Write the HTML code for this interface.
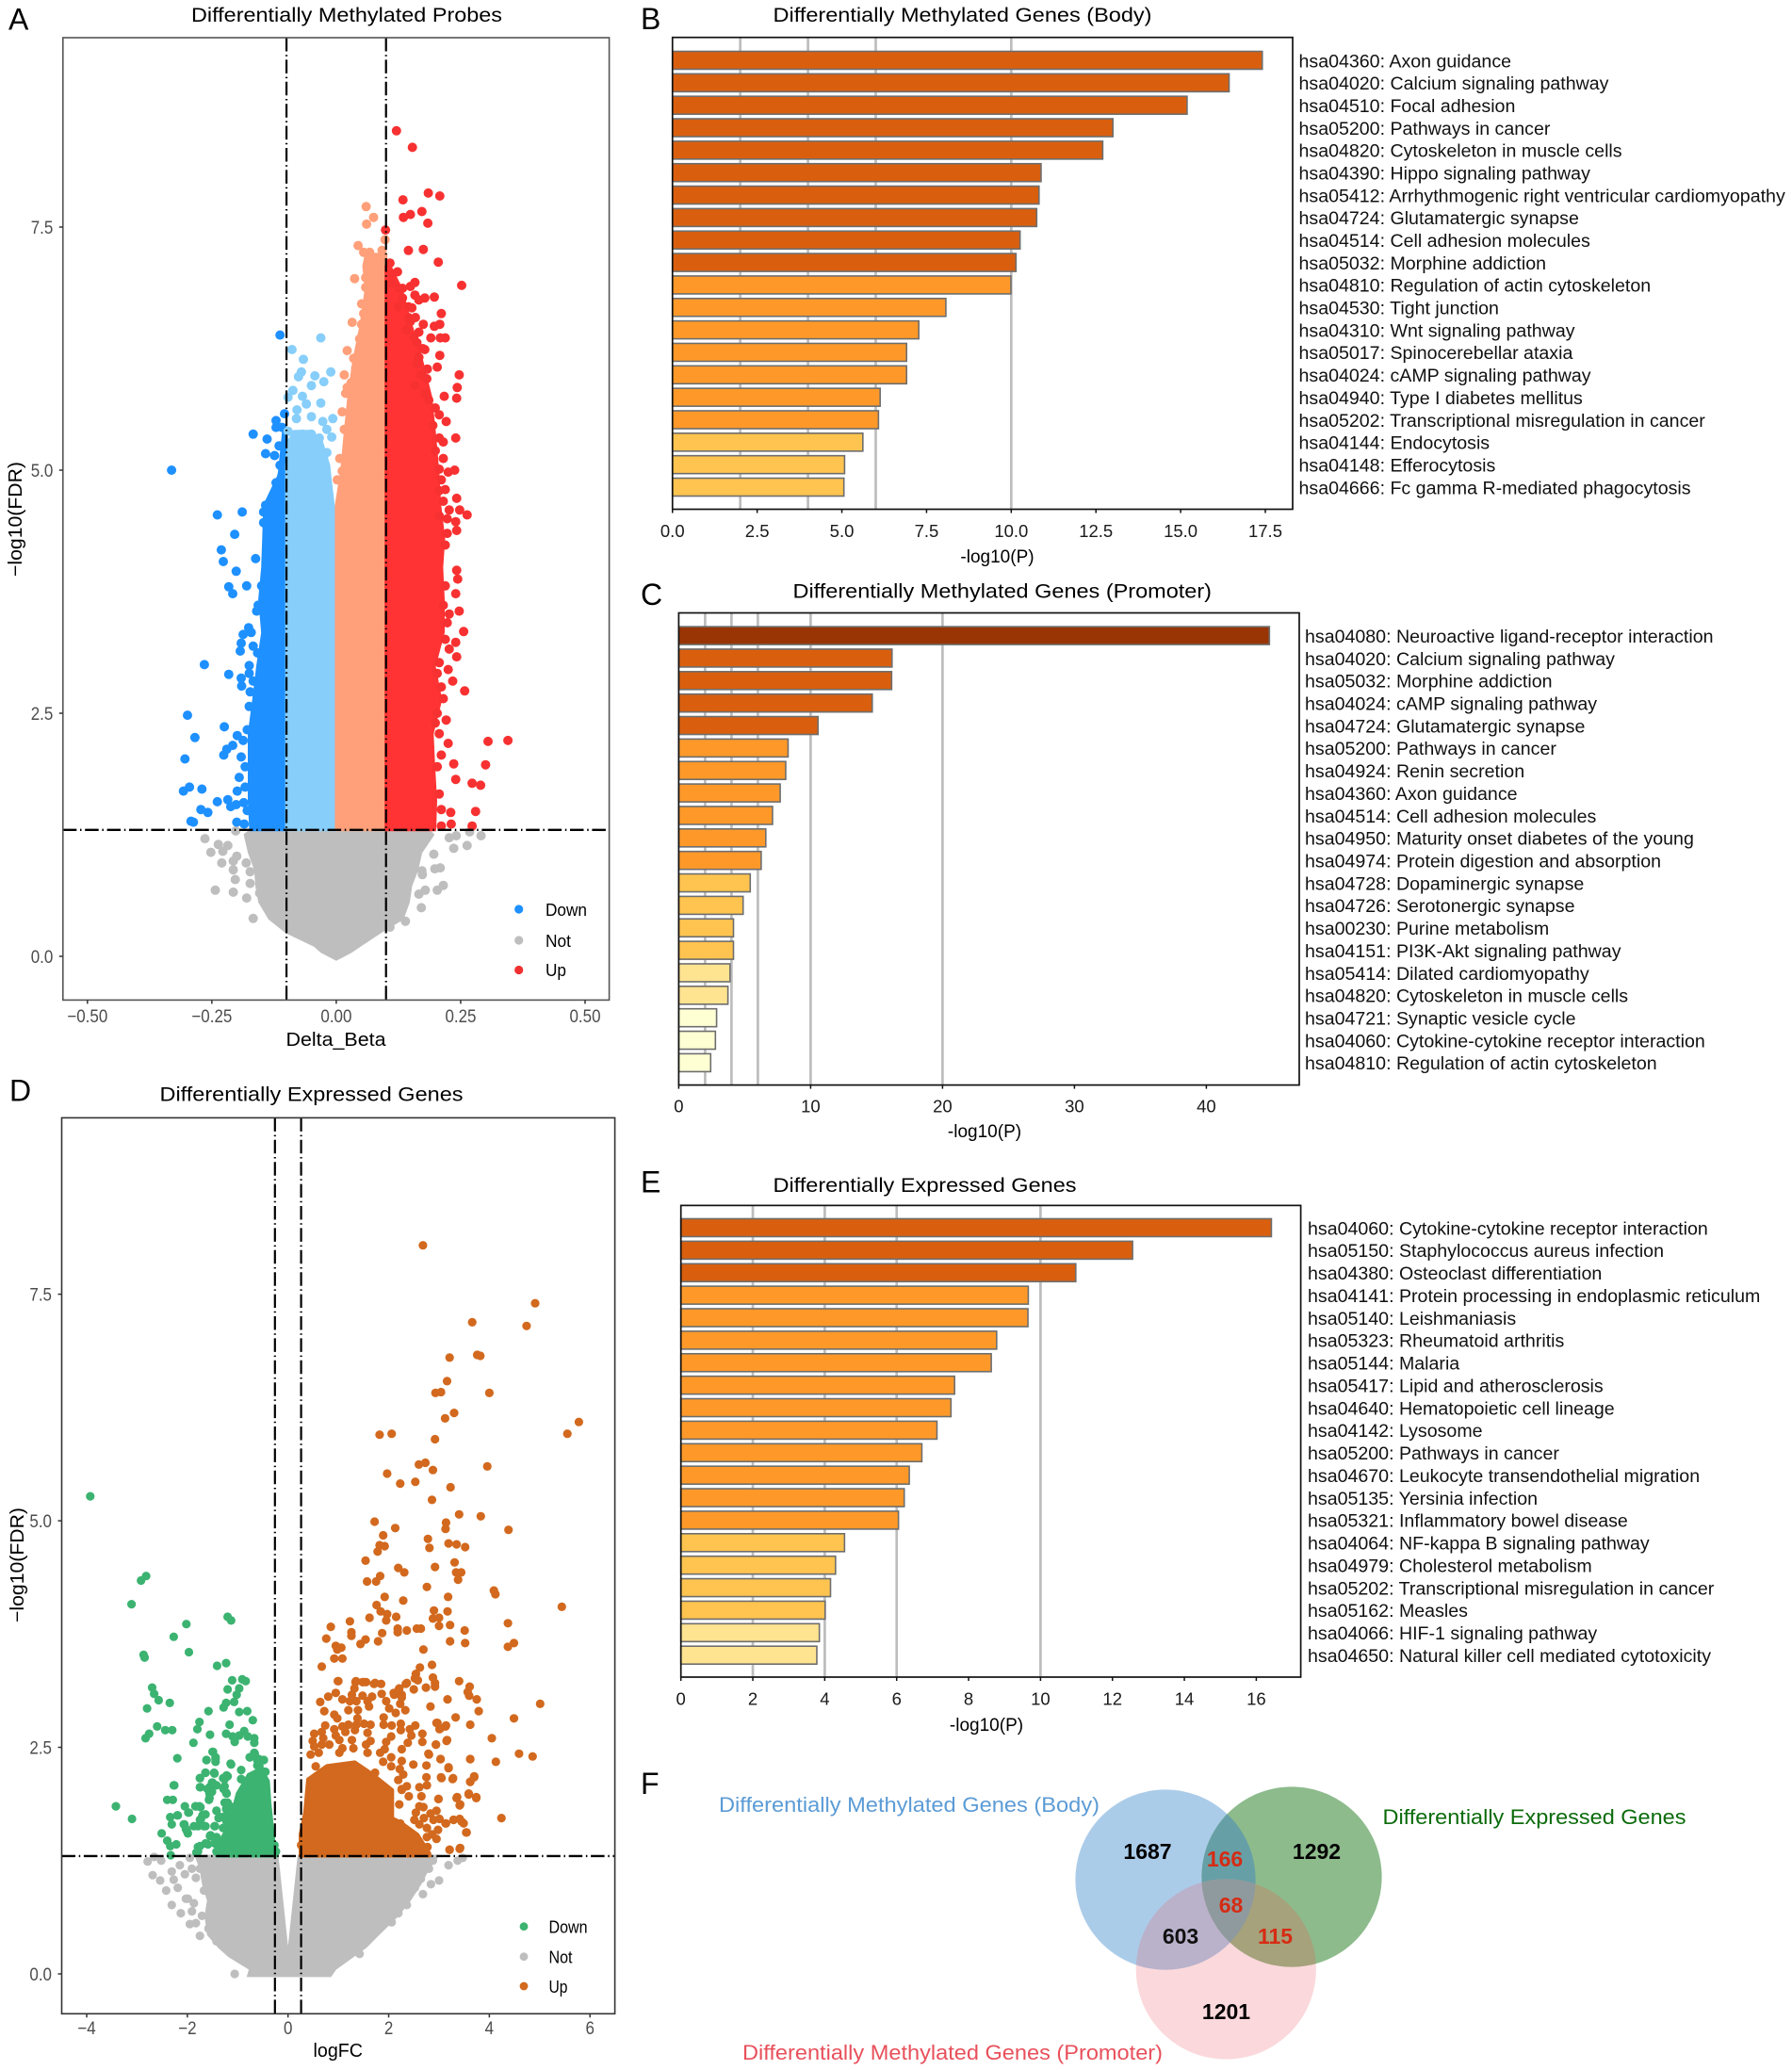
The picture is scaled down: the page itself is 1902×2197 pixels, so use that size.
<!DOCTYPE html>
<html lang="en">
<head>
<meta charset="utf-8">
<title>Differential methylation and expression figure</title>
<style>
html,body{margin:0;padding:0;background:#fff;width:1902px;height:2197px;overflow:hidden}
svg{display:block;font-family:"Liberation Sans",Arial,sans-serif}
</style>
</head>
<body>
<svg id="fig" xmlns="http://www.w3.org/2000/svg" width="1902" height="2197" viewBox="0 0 1902 2197">
  <rect x="0" y="0" width="1902" height="2197" fill="#fff"/>

  <g font-size="32" fill="#000">
    <text x="9" y="31.5">A</text>
    <text x="680" y="31">B</text>
    <text x="680" y="642">C</text>
    <text x="10" y="1168.5">D</text>
    <text x="680" y="1265.5">E</text>
    <text x="680" y="1904">F</text>
  </g>

  <g font-size="21.5" fill="#000">
    <text x="203" y="23" textLength="330" lengthAdjust="spacingAndGlyphs">Differentially Methylated Probes</text>
    <text x="820.5" y="23" textLength="402" lengthAdjust="spacingAndGlyphs">Differentially Methylated Genes (Body)</text>
    <text x="841.5" y="634.5" textLength="444.5" lengthAdjust="spacingAndGlyphs">Differentially Methylated Genes (Promoter)</text>
    <text x="169.5" y="1168.5" textLength="322" lengthAdjust="spacingAndGlyphs">Differentially Expressed Genes</text>
    <text x="820.5" y="1265" textLength="322" lengthAdjust="spacingAndGlyphs">Differentially Expressed Genes</text>
  </g>

  <g id="panelA"></g>
  <g id="panelD"></g>
  <g id="panelB"></g>
  <g id="panelC"></g>
  <g id="panelE"></g>

  <g font-size="20" fill="#000">
    <text x="303.5" y="1110" textLength="106" lengthAdjust="spacingAndGlyphs">Delta_Beta</text>
    <text transform="translate(23,612) rotate(-90)" textLength="122" lengthAdjust="spacingAndGlyphs">−log10(FDR)</text>
    <text x="332.5" y="2183" textLength="52.5" lengthAdjust="spacingAndGlyphs">logFC</text>
    <text transform="translate(25,1722) rotate(-90)" textLength="122" lengthAdjust="spacingAndGlyphs">−log10(FDR)</text>
  </g>
  <g font-size="19" fill="#000" text-anchor="middle">
    <text x="1058.5" y="597">-log10(P)</text>
    <text x="1045" y="1207">-log10(P)</text>
    <text x="1047" y="1837">-log10(P)</text>
  </g>

  <g font-size="18.5" fill="#000">
    <circle cx="550.7" cy="965" r="4.6" fill="#1E90FF"/>
    <circle cx="550.7" cy="998" r="4.6" fill="#BEBEBE"/>
    <circle cx="550.7" cy="1029.5" r="4.6" fill="#F03030"/>
    <text x="579" y="972" textLength="44" lengthAdjust="spacingAndGlyphs">Down</text>
    <text x="579" y="1005" textLength="27" lengthAdjust="spacingAndGlyphs">Not</text>
    <text x="579" y="1036" textLength="22" lengthAdjust="spacingAndGlyphs">Up</text>
  </g>
  <g font-size="18.5" fill="#000">
    <circle cx="556" cy="2044.7" r="4.4" fill="#3CB371"/>
    <circle cx="556" cy="2076.7" r="4.4" fill="#BEBEBE"/>
    <circle cx="556" cy="2108" r="4.4" fill="#D2691E"/>
    <text x="582.5" y="2051.5" textLength="41" lengthAdjust="spacingAndGlyphs">Down</text>
    <text x="582.5" y="2083.5" textLength="25" lengthAdjust="spacingAndGlyphs">Not</text>
    <text x="582.5" y="2115" textLength="20" lengthAdjust="spacingAndGlyphs">Up</text>
  </g>

  <defs>
    <clipPath id="clipBlue"><circle cx="1237" cy="1995" r="95.6"/></clipPath>
    <clipPath id="clipGreen"><circle cx="1371" cy="1992" r="95.6"/></clipPath>
    <clipPath id="clipPink"><circle cx="1301.3" cy="2090" r="95.6"/></clipPath>
  </defs>
  <g>
    <circle cx="1301.3" cy="2090" r="95.6" fill="#FBD8DB"/>
    <circle cx="1237" cy="1995" r="95.6" fill="#ABCCE9"/>
    <circle cx="1371" cy="1992" r="95.6" fill="#8DBB8C"/>
    <circle cx="1371" cy="1992" r="95.6" fill="#66A0A6" clip-path="url(#clipBlue)"/>
    <circle cx="1301.3" cy="2090" r="95.6" fill="#BAB1CB" clip-path="url(#clipBlue)"/>
    <circle cx="1301.3" cy="2090" r="95.6" fill="#A6A27C" clip-path="url(#clipGreen)"/>
    <g clip-path="url(#clipBlue)"><circle cx="1301.3" cy="2090" r="95.6" fill="#8F9A9E" clip-path="url(#clipGreen)"/></g>
    <g font-size="23" font-weight="bold" text-anchor="middle">
      <text x="1218" y="1973" fill="#000">1687</text>
      <text x="1300" y="1981" fill="#D62B14">166</text>
      <text x="1397.5" y="1973" fill="#000">1292</text>
      <text x="1306.5" y="2030" fill="#D62B14">68</text>
      <text x="1253" y="2063" fill="#111">603</text>
      <text x="1353.5" y="2063" fill="#D62B14">115</text>
      <text x="1301.5" y="2143" fill="#000">1201</text>
    </g>
    <g font-size="22.5">
      <text x="763" y="1923" fill="#5B9BD5" textLength="404" lengthAdjust="spacingAndGlyphs">Differentially Methylated Genes (Body)</text>
      <text x="1467.5" y="1936" fill="#0B6B0B" textLength="322" lengthAdjust="spacingAndGlyphs">Differentially Expressed Genes</text>
      <text x="788" y="2186" fill="#E8505B" textLength="446" lengthAdjust="spacingAndGlyphs">Differentially Methylated Genes (Promoter)</text>
    </g>
  </g>
</svg>

<script>
/* ---------- Panel A data: delta-beta vs -log10(FDR) ---------- */
const aXTicks = [-0.5,-0.25,0,0.25,0.5];
const aXTickLabels = ['−0.50','−0.25','0.00','0.25','0.50'];
const aYTicks = [0,2.5,5,7.5];
const aYTickLabels = ['0.0','2.5','5.0','7.5'];
const aThresholds = [-0.1,0.1];
const aFdrThreshold = 1.3;

const aGreyLevels = [-0.03,0.05,0.11,0.25,0.39,0.56,0.73,0.89,1.07,1.25,1.32];
const aGreyLeft = [0,-0.03,-0.043,-0.1,-0.134,-0.154,-0.16,-0.162,-0.175,-0.183,-0.165];
const aGreyRight = [0,0.03,0.047,0.088,0.133,0.145,0.15,0.162,0.17,0.194,0.18];

const aDownLevels = [1.3,1.6,1.95,2.29,2.64,2.98,3.33,3.67,4.0,4.3,4.64,4.95,5.4];
const aDownLeft = [-0.172,-0.175,-0.175,-0.175,-0.166,-0.158,-0.148,-0.154,-0.148,-0.146,-0.144,-0.115,-0.106];
const aDownRight = [-0.1,-0.1,-0.1,-0.1,-0.1,-0.1,-0.1,-0.1,-0.1,-0.1,-0.1,-0.1,-0.1];

const aLightLevels = [1.3,4.3,4.6,4.9,5.05,5.3,5.4];
const aLightLeft = [-0.1,-0.1,-0.1,-0.1,-0.1,-0.095,-0.085];
const aLightRight = [0,0,-0.005,-0.012,-0.015,-0.03,-0.05];

const aSalmonLevels = [1.3,4.64,5.0,5.4,5.75,6.12,6.5,6.87,7.1,7.22];
const aSalmonLeft = [0,0,0.011,0.018,0.025,0.035,0.05,0.06,0.055,0.06];
const aSalmonRight = [0.1,0.1,0.1,0.1,0.1,0.1,0.1,0.1,0.1,0.1];

const aUpLevels = [1.3,1.6,1.95,2.29,2.64,2.98,3.33,3.67,4.0,4.3,4.64,5.0,5.4,5.75,6.12,6.5,6.87,7.1];
const aUpLeft = [0.1,0.1,0.1,0.1,0.1,0.1,0.1,0.1,0.1,0.1,0.1,0.1,0.1,0.1,0.1,0.1,0.1,0.1];
const aUpRight = [0.198,0.2,0.196,0.193,0.21,0.197,0.215,0.215,0.212,0.216,0.208,0.204,0.197,0.19,0.172,0.15,0.13,0.108];

const aUpPoints = [[.121,8.49],[.153,8.32],[.185,7.85],[.208,7.82],[.134,7.78],[.172,7.66],[.149,7.63],[.135,7.6],[.184,7.54],[.099,7.47],[.145,7.26],[.175,7.27],[.205,7.14],[.108,7.13],[.123,7.04],[.252,6.9],[.158,6.93],[.149,6.89],[.112,6.92],[.158,6.8],[.197,6.78],[.178,6.77],[.133,6.77],[.166,6.75],[.152,6.67],[.211,6.61],[.159,6.57],[.149,6.53],[.175,6.5],[.208,6.5],[.197,6.48],[.141,6.44],[.156,6.37],[.19,6.36],[.209,6.36],[.219,6.36],[.178,6.24],[.208,6.18],[.183,6.04],[.203,6.06],[.182,5.94],[.247,5.98],[.243,5.85],[.242,5.74],[.217,5.76],[.221,5.5],[.24,5.33],[.215,5.29],[.238,5],[.225,4.98],[.215,5.12],[.219,4.8],[.242,4.71],[.227,4.59],[.248,4.59],[.263,4.54],[.24,4.47],[.223,4.5],[.242,4.38],[.242,3.97],[.244,3.88],[.24,3.73],[.247,3.55],[.227,3.52],[.256,3.34],[.24,3.23],[.227,3.16],[.242,3.08],[.225,2.95],[.234,2.83],[.258,2.73],[.221,2.43],[.305,2.21],[.345,2.22],[.225,2.19],[.236,1.98],[.3,1.97],[.24,1.82],[.273,1.78],[.29,1.76],[.28,1.49],[.23,1.48],[.231,1.36],[.273,1.34],[.211,1.34],[.112,7.02],[.125,6.87],[.133,6.87],[.145,6.68],[.125,6.68],[.145,6.57],[.166,6.42],[.162,6.31],[.174,6.25],[.166,6.16],[.162,6.09],[.17,5.98],[.158,5.87],[.178,5.79],[.186,5.72],[.199,5.64],[.207,5.57],[.194,5.46],[.207,5.33],[.199,5.2],[.207,5.01],[.211,4.9],[.207,4.79],[.215,4.68],[.207,4.53],[.223,4.35],[.219,4.23],[.219,3.81],[.215,3.61],[.223,3.43],[.219,3.26],[.207,3.02],[.203,2.91],[.211,2.77],[.215,2.65],[.203,2.5],[.199,2.4],[.207,2.29],[.211,2.07],[.203,1.95],[.207,1.67],[.211,1.51]];
const aSalmonPoints = [[.06,7.71],[.075,7.6],[.061,7.53],[.098,7.37],[.044,7.31],[.067,7.24],[.092,7.26],[.084,7.09],[.037,6.97],[.07,7],[.059,6.88],[.08,6.89],[.051,6.71],[.078,6.77],[.032,6.52],[.051,6.5],[.047,6.35],[.022,6.23],[.035,6.15],[.016,5.98],[.019,5.79],[.012,5.6],[.016,5.42],[.007,5.12],[.012,4.99],[.002,4.9],[.08,7.16],[.055,7.24],[.071,7.07],[.059,6.98],[.092,6.98],[.067,6.83],[.055,6.61],[.075,6.61],[.067,6.53],[.051,6.22],[.039,6.05],[.03,5.9],[.022,5.85]];
const aLightPoints = [[-.031,6.36],[-.089,6.24],[-.066,6.14],[-.011,6.01],[-.07,6.01],[-.043,5.97],[-.076,5.96],[-.025,5.91],[-.05,5.87],[-.087,5.82],[-.068,5.76],[-.097,5.75],[-.031,5.69],[-.06,5.68],[-.079,5.62],[-.05,5.55],[-.007,5.53],[-.08,5.53],[-.027,5.5],[-.019,5.42],[-.097,5.4],[-.068,5.37],[-.05,5.37],[-.034,5.33],[-.009,5.34],[-.08,5.29],[-.056,5.24],[-.019,5.18],[-.072,5.18],[-.045,5.1],[-.093,5.14]];
const aDownPoints = [[-.113,6.39],[-.104,5.58],[-.121,5.51],[-.121,5.44],[-.109,5.44],[-.167,5.37],[-.139,5.32],[-.115,5.25],[-.142,5.17],[-.124,5.15],[-.113,5.05],[-.331,5],[-.109,4.95],[-.121,4.87],[-.121,4.79],[-.142,4.64],[-.114,4.68],[-.239,4.54],[-.189,4.57],[-.146,4.57],[-.146,4.46],[-.204,4.34],[-.231,4.18],[-.227,4.06],[-.162,4.09],[-.201,3.96],[-.216,3.8],[-.208,3.73],[-.18,3.81],[-.16,3.55],[-.176,3.38],[-.187,3.31],[-.191,3.22],[-.193,3.14],[-.175,2.99],[-.265,3],[-.216,2.9],[-.191,2.86],[-.19,2.78],[-.173,2.72],[-.299,2.48],[-.225,2.36],[-.199,2.27],[-.284,2.25],[-.208,2.17],[-.22,2.13],[-.226,2.07],[-.304,2.03],[-.195,1.84],[-.295,1.74],[-.27,1.72],[-.307,1.7],[-.199,1.7],[-.218,1.61],[-.239,1.59],[-.186,1.58],[-.201,1.56],[-.212,1.54],[-.272,1.51],[-.258,1.48],[-.292,1.39],[-.287,1.38],[-.2,1.38],[-.185,1.36],[-.15,3.81],[-.157,3.61],[-.171,3.33],[-.167,3.19],[-.158,3.12],[-.175,2.91],[-.167,2.83],[-.175,2.57],[-.179,2.33],[-.187,2.22],[-.191,2.05],[-.183,1.95],[-.183,1.74],[-.179,1.5]];
const aGreyPoints = [[-.202,1.29],[-.264,1.21],[-.237,1.15],[-.218,1.14],[-.252,1.07],[-.228,1.08],[-.2,1.03],[-.23,.96],[-.207,.98],[-.181,.96],[-.207,.89],[-.173,.87],[-.203,.79],[-.173,.75],[-.153,.77],[-.243,.68],[-.207,.66],[-.18,.6],[-.167,.39],[-.154,.65],[.268,1.28],[.291,1.24],[.241,1.24],[.227,1.22],[.263,1.14],[.236,1.11],[.196,1.05],[.172,.88],[.198,.9],[.209,.91],[.173,.84],[.215,.73],[.179,.68],[.203,.68],[.166,.64],[.171,.5],[.139,.36],[.108,.3]];

/* ---------- Panel D data: logFC vs -log10(FDR) ---------- */
const dXTicks = [-4,-2,0,2,4,6];
const dXTickLabels = ['−4','−2','0','2','4','6'];
const dYTicks = [0,2.5,5,7.5];
const dYTickLabels = ['0.0','2.5','5.0','7.5'];
const dThresholds = [-0.26,0.26];
const dFdrThreshold = 1.3;

const dGreyLevels = [-0.03,0.05,0.19,0.29,0.43,0.64,0.81,0.99,1.16,1.31];
const dGreyLeft = [-0.81,-0.77,-1.18,-1.38,-1.6,-1.65,-1.6,-1.7,-1.75,-1.85];
const dGreyRight = [0.85,0.95,1.3,1.55,1.8,2.19,2.43,2.64,2.8,3];
const dNotchLevels = [0.26,1.31];
const dNotchHalfWidth = [0,0.2];

const dUpBandX = [.24,.24,.33,.39,.77,1.33,1.70,2.08,2.08,2.23,2.58,2.82];
const dUpBandTop = [1.3,1.54,1.78,2.15,2.3,2.34,2.2,2.03,1.72,1.68,1.54,1.33];
const dDownBandX = [-1.42,-1.17,-1.01,-.79,-.54,-.39,-.36,-.28,-.23];
const dDownBandTop = [1.40,1.65,1.99,2.2,2.27,2.13,1.89,1.47,1.32];
const dBandBottom = 1.3;

const dUpPoints = [[2.68,8.04],[4.91,7.4],[3.66,7.19],[4.74,7.15],[3.21,6.8],[3.76,6.83],[3.82,6.82],[3.16,6.54],[2.93,6.41],[3.04,6.42],[4,6.41],[3.3,6.19],[3.12,6.13],[5.78,6.09],[5.55,5.96],[1.82,5.95],[2.06,5.96],[2.92,5.9],[2.6,5.62],[2.73,5.64],[2.88,5.56],[3.96,5.6],[1.97,5.52],[2.23,5.41],[2.53,5.43],[3.23,5.37],[2.86,5.23],[3.4,5.07],[3.83,5.05],[1.72,4.99],[3.14,4.98],[3.13,4.91],[2.13,4.92],[4.38,4.9],[1.89,4.84],[2.78,4.8],[1.82,4.73],[1.92,4.72],[2.81,4.7],[1.78,4.66],[3.19,4.75],[3.35,4.74],[3.52,4.71],[3.31,4.54],[1.54,4.56],[2.19,4.48],[2.92,4.49],[2.31,4.43],[3.34,4.43],[3.44,4.43],[1.83,4.39],[1.57,4.33],[1.75,4.33],[3.38,4.35],[2.76,4.27],[4.09,4.23],[4.12,4.19],[1.92,4.16],[3.18,4.16],[2.29,4.12],[5.44,4.05],[1.76,4.07],[1.84,4],[1.97,3.97],[1.95,3.9],[2.15,3.94],[2.9,4.01],[3.17,4],[1.62,3.93],[1.23,3.89],[2.88,3.92],[3,3.93],[4.37,3.87],[3.22,3.85],[.85,3.83],[3,3.84],[2.18,3.81],[2.36,3.79],[2.56,3.81],[2.64,3.81],[3.51,3.79],[2.18,3.77],[1.26,3.77],[1.87,3.76],[1.26,3.73],[.76,3.7],[1.54,3.69],[1.79,3.67],[3.22,3.67],[3.52,3.65],[1.44,3.64],[4.49,3.65],[4.37,3.61],[.95,3.62],[1.06,3.6],[.98,3.58],[2.69,3.58],[.92,3.48],[1.08,3.48],[2.86,3.41],[.67,3.39],[2.62,3.38],[2.54,3.31],[2.88,3.27],[2.52,3.26],[1,3.23],[1.34,3.22],[1.5,3.22],[1.73,3.21],[1.85,3.2],[2.36,3.21],[2.58,3.24],[2.92,3.21],[3.4,3.23],[2.92,3.17],[2.74,3.16],[2.5,3.14],[2.21,3.15],[3.61,3.17],[3.57,3.11],[3.6,3.07],[2.1,3.1],[2.26,3.08],[3.75,3.03],[3.17,3.03],[5.01,2.98],[2.83,2.95],[3.79,2.9],[3.33,2.83],[4.49,2.82],[3.62,2.75],[4.05,2.6],[3.16,2.58],[2.94,2.53],[2.97,2.77],[3.13,2.73],[3.03,2.71],[4.59,2.43],[4.86,2.4],[4.13,2.34],[3.62,2.37],[3.03,2.37],[3.19,2.27],[2.8,2.42],[3.7,2.17],[3.27,2.15],[3.05,2.16],[3.62,2.12],[4.24,1.72],[3.59,1.98],[3.74,1.94],[3.35,1.94],[3.41,1.86],[2.99,1.93],[3.29,1.7],[3.41,1.71],[3.49,1.66],[3.55,1.56],[3.21,1.37],[3.41,1.38],[3.13,1.66],[.99,3.23],[1.35,3.23],[1.48,3.22],[1.55,3.22],[1.71,3.2],[2.34,3.2],[1.32,3.15],[1.86,3.09],[1.27,3.08],[.95,3.1],[.8,3.06],[1.48,3.07],[1.67,3.06],[.64,3],[1.08,3.03],[1.23,3.01],[1.36,3.01],[1.58,3.01],[1.95,3.01],[2.11,3.08],[2.2,3.14],[2.26,3.05],[2.23,2.98],[2.33,2.91],[1.61,2.95],[1.2,2.91],[1.39,2.91],[2.01,2.93],[2.14,2.88],[.72,2.9],[.92,2.86],[.98,2.82],[1.38,2.82],[1.9,2.83],[1.36,2.75],[1.2,2.75],[1.08,2.73],[1.51,2.76],[1.64,2.75],[1.9,2.75],[2.06,2.74],[2.24,2.76],[2.24,2.69],[2.53,2.74],[2.42,2.7],[2.45,2.63],[.74,2.74],[.67,2.67],[.52,2.65],[.92,2.7],[.95,2.63],[1.14,2.67],[1.33,2.69],[1.58,2.66],[2.05,2.62],[.49,2.57],[.7,2.6],[1.02,2.58],[1.27,2.58],[1.64,2.57],[1.95,2.56],[2.38,2.55],[2.67,2.65],[2.67,2.56],[2.95,2.77],[3.01,2.7],[3.14,2.74],[2.94,2.53],[3.15,2.57],[.52,2.51],[.67,2.53],[.82,2.53],[1.08,2.49],[1.3,2.49],[1.55,2.53],[1.92,2.48],[2.26,2.48],[.45,2.42],[.61,2.44],[1.02,2.44],[1.58,2.44],[1.83,2.44],[2.05,2.39],[2.79,2.43],[2.26,2.35],[1.89,2.34],[.55,2.29],[2.05,2.29],[2.49,2.31],[2.75,2.3],[3.03,2.37],[2.22,2.26],[2.29,2.2],[1.73,2.22],[3.19,2.28],[3.62,2.37],[2.75,2.17],[2.19,2.14],[3.04,2.17],[3.28,2.16],[3.7,2.18],[3.62,2.12],[2.26,2.04],[2.36,2.07],[2.61,2.06],[2.76,2.08],[2.26,2.03],[2.4,1.96],[2.65,1.96],[2.99,1.93],[3.36,1.95],[3.59,1.99],[3.74,1.95],[3.42,1.87],[2.21,1.87],[2.61,1.85],[2.69,1.84],[2.54,1.78],[2.95,1.8],[2.83,1.77],[2.51,1.7],[2.7,1.72],[2.89,1.7],[3.01,1.71],[3.14,1.66],[3.29,1.7],[3.45,1.68],[3.54,1.56],[2.61,1.65],[2.76,1.61],[2.98,1.59],[2.86,1.54],[2.95,1.49],[2.76,1.51],[2.77,1.4],[2.58,1.4],[3.21,1.37],[3.42,1.39],[2.23,1.66],[2.45,1.54],[.26,1.42]];
const dDownPoints = [[-3.93,5.27],[-2.82,4.39],[-2.92,4.34],[-3.11,4.08],[-1.2,3.94],[-1.13,3.9],[-2.02,3.86],[-2.27,3.72],[-1.97,3.55],[-2.87,3.52],[-2.85,3.49],[-1.23,3.43],[-1.41,3.4],[-.91,3.25],[-.84,3.23],[-1.11,3.24],[-2.7,3.16],[-2.66,3.09],[-1.2,3.14],[-.97,3.15],[-1.02,3.08],[-2.57,3.02],[-2.35,2.99],[-1.07,3],[-1.23,2.99],[-1.28,2.94],[-2.8,2.93],[-1.58,2.9],[-.97,2.89],[-.81,2.9],[-.7,2.8],[-1.76,2.78],[-1.8,2.7],[-1.16,2.75],[-2.6,2.73],[-2.44,2.69],[-2.3,2.69],[-2.76,2.65],[-2.83,2.6],[-1.55,2.64],[-1.23,2.65],[-.87,2.68],[-1.1,2.62],[-.97,2.63],[-1.06,2.56],[-.8,2.62],[-.67,2.6],[-.67,2.55],[-1.88,2.55],[-1.5,2.45],[-1.44,2.39],[-.66,2.43],[-.76,2.39],[-.61,2.36],[-.49,2.36],[-2.2,2.38],[-1.62,2.36],[-1.44,2.34],[-1.13,2.31],[-.57,2.29],[-.47,2.23],[-1.64,2.22],[-1.46,2.21],[-1.22,2.19],[-1.75,2.16],[-1.26,2.15],[-1.5,2.11],[-.93,2.15],[-2.27,2.08],[-1.75,2.06],[-1.56,2.06],[-1.28,2.04],[-1.22,1.99],[-1.56,1.99],[-1.57,1.92],[-2.4,1.92],[-2.29,1.92],[-.97,1.9],[-3.42,1.85],[-2.05,1.85],[-1.83,1.85],[-1.74,1.84],[-1.26,1.89],[-1.97,1.78],[-1.42,1.8],[-2.19,1.75],[-1.21,1.77],[-3.1,1.71],[-2.34,1.73],[-1.7,1.75],[-1.38,1.72],[-1.75,1.7],[-2.31,1.65],[-2.07,1.65],[-1.87,1.63],[-1.67,1.63],[-1.46,1.63],[-1.22,1.68],[-2.03,1.6],[-1.99,1.55],[-2.51,1.55],[-1.54,1.53],[-1.42,1.51],[-1.26,1.47],[-2.4,1.47],[-2.22,1.43],[-2.34,1.41],[-1.75,1.41],[-1.59,1.43],[-1.06,1.42],[-1.3,1.39],[-1.79,1.35],[-2.33,1.31],[-1.42,1.35],[-.93,1.39],[-.85,1.61],[-1.06,1.7],[-.77,1.56],[-.24,1.35],[-.27,1.42],[-.67,2.44],[-.76,2.39],[-.58,2.37],[-.48,2.36],[-.61,2.3],[-.45,2.23],[-.7,2.18],[-.93,2.15],[-1.14,2.32],[-.93,2.25],[-1.49,2.45],[-1.44,2.37],[-1.62,2.36],[-1.47,2.22],[-1.64,2.22],[-1.75,2.16],[-1.29,2.16],[-1.2,2.18],[-1.51,2.11],[-1.42,2.08],[-1.26,2.07],[-2.26,2.08],[-1.74,2.06],[-1.6,2.04],[-1.51,2.01],[-1.23,2],[-1.56,1.94],[-1.2,1.89],[-1.11,1.84],[-1.23,1.82],[-1.84,1.85],[-1.76,1.85],[-1.42,1.8],[-1.98,1.78],[-2.2,1.75],[-1.64,1.76],[-1.73,1.71],[-1.32,1.73],[-1.14,1.7],[-.98,1.78],[-2.06,1.65],[-2.01,1.58],[-1.79,1.63],[-1.64,1.63],[-1.45,1.63],[-1.29,1.61],[-1.55,1.52],[-1.45,1.49],[-1.23,1.47],[-1.79,1.4],[-1.64,1.44],[-1.45,1.44],[-1.26,1.39],[-1.04,1.42],[-1.39,1.35],[-1.82,1.34]];
const dGreyPoints = [[-1.06,0],[-2.79,1.24],[-2.66,1.29],[-2.52,1.25],[-2.69,1.09],[-2.54,1.03],[-2.42,.92],[-2.31,1.13],[-2.27,1.04],[-2.19,.95],[-2.31,.76],[-2.13,.67],[-2.03,.83],[-2.15,1.2],[-1.95,.55],[-1.83,.56],[-1.91,.69],[-1.75,1.16],[3.19,1.2],[3.37,1.25],[3.47,1.28],[3,1.03],[2.84,.99],[2.68,.88],[2.36,.76],[2.19,.67],[2.06,.57],[2.88,1.25],[2.8,1.16],[2.64,1.05],[2.52,.95],[1.42,.22],[-1.91,1.16],[-1.62,1.23],[-1.83,1.06],[-1.67,.92],[-1.99,.83],[-1.87,.78],[-1.71,.64],[-1.58,.5],[-1.75,.42],[-1.42,.36],[-1.95,1.28],[-2.05,1.1]];

/* ---------- Bar panels ---------- */
const bCategories = ['hsa04360: Axon guidance','hsa04020: Calcium signaling pathway','hsa04510: Focal adhesion','hsa05200: Pathways in cancer','hsa04820: Cytoskeleton in muscle cells','hsa04390: Hippo signaling pathway','hsa05412: Arrhythmogenic right ventricular cardiomyopathy','hsa04724: Glutamatergic synapse','hsa04514: Cell adhesion molecules','hsa05032: Morphine addiction','hsa04810: Regulation of actin cytoskeleton','hsa04530: Tight junction','hsa04310: Wnt signaling pathway','hsa05017: Spinocerebellar ataxia','hsa04024: cAMP signaling pathway','hsa04940: Type I diabetes mellitus','hsa05202: Transcriptional misregulation in cancer','hsa04144: Endocytosis','hsa04148: Efferocytosis','hsa04666: Fc gamma R-mediated phagocytosis'];
const bValues = [17.41,16.43,15.19,13.0,12.7,10.88,10.82,10.75,10.26,10.14,9.99,8.07,7.27,6.91,6.91,6.13,6.08,5.62,5.08,5.06];
const bTicks = [0,2.5,5,7.5,10,12.5,15,17.5];
const bTickLabels = ['0.0','2.5','5.0','7.5','10.0','12.5','15.0','17.5'];
const bGrid = [2,4,6,10];

const cCategories = ['hsa04080: Neuroactive ligand-receptor interaction','hsa04020: Calcium signaling pathway','hsa05032: Morphine addiction','hsa04024: cAMP signaling pathway','hsa04724: Glutamatergic synapse','hsa05200: Pathways in cancer','hsa04924: Renin secretion','hsa04360: Axon guidance','hsa04514: Cell adhesion molecules','hsa04950: Maturity onset diabetes of the young','hsa04974: Protein digestion and absorption','hsa04728: Dopaminergic synapse','hsa04726: Serotonergic synapse','hsa00230: Purine metabolism','hsa04151: PI3K-Akt signaling pathway','hsa05414: Dilated cardiomyopathy','hsa04820: Cytoskeleton in muscle cells','hsa04721: Synaptic vesicle cycle','hsa04060: Cytokine-cytokine receptor interaction','hsa04810: Regulation of actin cytoskeleton'];
const cValues = [44.78,16.17,16.14,14.67,10.56,8.29,8.11,7.69,7.11,6.6,6.25,5.42,4.88,4.15,4.15,3.89,3.73,2.87,2.78,2.42];
const cTicks = [0,10,20,30,40];
const cTickLabels = ['0','10','20','30','40'];
const cGrid = [2,4,6,10,20];

const eCategories = ['hsa04060: Cytokine-cytokine receptor interaction','hsa05150: Staphylococcus aureus infection','hsa04380: Osteoclast differentiation','hsa04141: Protein processing in endoplasmic reticulum','hsa05140: Leishmaniasis','hsa05323: Rheumatoid arthritis','hsa05144: Malaria','hsa05417: Lipid and atherosclerosis','hsa04640: Hematopoietic cell lineage','hsa04142: Lysosome','hsa05200: Pathways in cancer','hsa04670: Leukocyte transendothelial migration','hsa05135: Yersinia infection','hsa05321: Inflammatory bowel disease','hsa04064: NF-kappa B signaling pathway','hsa04979: Cholesterol metabolism','hsa05202: Transcriptional misregulation in cancer','hsa05162: Measles','hsa04066: HIF-1 signaling pathway','hsa04650: Natural killer cell mediated cytotoxicity'];
const eValues = [16.42,12.56,10.98,9.66,9.65,8.78,8.63,7.61,7.51,7.12,6.7,6.35,6.21,6.05,4.55,4.3,4.16,4.01,3.85,3.78];
const eTicks = [0,2,4,6,8,10,12,14,16];
const eTickLabels = ['0','2','4','6','8','10','12','14','16'];
const eGrid = [2,4,6,10];

/* significance bin for the fill colour of each bar is derived from the value thresholds */
const binFloors = ['#993404','#D95F0E','#FE9929','#FEC44F','#FEE391','#FFFFD4'];

const NS = 'http://www.w3.org/2000/svg';
function scale(d0,d1,r0,r1){ return v => r0 + (v-d0)*(r1-r0)/(d1-d0); }
function make(parent,tag){ const el = document.createElementNS(NS,tag); parent.appendChild(el); return el; }

function addRect(parent,x,y,w,h,fill,stroke,sw,name){
  const el = make(parent,'rect');
  el.setAttribute('x',x); el.setAttribute('y',y);
  el.setAttribute('width',w); el.setAttribute('height',h);
  el.setAttribute('fill',fill);
  if(stroke){ el.setAttribute('stroke',stroke); el.setAttribute('stroke-width',sw); }
  
  
  return el;
}
function addLine(parent,x1,y1,x2,y2,stroke,sw,dash,name){
  const el = make(parent,'line');
  el.setAttribute('x1',x1); el.setAttribute('y1',y1);
  el.setAttribute('x2',x2); el.setAttribute('y2',y2);
  el.setAttribute('stroke',stroke); el.setAttribute('stroke-width',sw);
  if(dash) el.setAttribute('stroke-dasharray',dash);
  
  
  return el;
}
function addText(parent,str,x,y,size,fill,anchor,sx,name){
  const el = make(parent,'text');
  el.textContent = str;
  el.setAttribute('font-size',size);
  el.setAttribute('fill',fill);
  el.setAttribute('text-anchor',anchor);
  if(sx){ el.setAttribute('transform','translate('+x+','+y+') scale('+sx+',1)'); }
  else { el.setAttribute('x',x); el.setAttribute('y',y); }
  
  
  return el;
}
function addDots(parent,pts,xs,ys,r,fill,name){
  pts.forEach(p => {
    const el = make(parent,'circle');
    el.setAttribute('cx',xs(p[0]).toFixed(1));
    el.setAttribute('cy',ys(p[1]).toFixed(1));
    el.setAttribute('r',r);
    el.setAttribute('fill',fill);
    
    
  });
}
function addPoly(parent,coords,fill,name){
  const el = make(parent,'polygon');
  el.setAttribute('points',coords.map(c => c[0].toFixed(1)+','+c[1].toFixed(1)).join(' '));
  el.setAttribute('fill',fill);
  el.setAttribute('stroke',fill);
  el.setAttribute('stroke-width','3');
  el.setAttribute('stroke-linejoin','round');
  
  
  return el;
}
function envelope(levels,left,right,xs,ys){
  const out = [];
  levels.forEach((l,i) => out.push([xs(left[i]),ys(l)]));
  for(let i=levels.length-1;i>=0;i--) out.push([xs(right[i]),ys(levels[i])]);
  return out;
}
function band(xv,top,bottom,xs,ys){
  const out = [[xs(xv[0]),ys(bottom)]];
  xv.forEach((v,i) => out.push([xs(v),ys(top[i])]));
  out.push([xs(xv[xv.length-1]),ys(bottom)]);
  return out;
}

const DASH = '14.5 3.7 1.5 3.7';
function volcanoFrame(g,box,xs,ys,xT,xL,yT,yL,thr,fdr,border,xBase,prefix){
  thr.forEach(t => addLine(g,xs(t),box.top,xs(t),box.bottom,'#000',2.2,DASH,prefix+'-threshold-line'));
  addLine(g,box.left,ys(fdr),box.right,ys(fdr),'#000',2.4,DASH,prefix+'-fdr-threshold-line');
  addRect(g,box.left,box.top,box.right-box.left,box.bottom-box.top,'none',border,1.6,prefix+'-plot-border');
  xT.forEach((t,i) => {
    addLine(g,xs(t),box.bottom,xs(t),box.bottom+4,'#333',1.5,null,prefix+'-x-tick');
    addText(g,xL[i],xs(t),xBase,19.5,'#4d4d4d','middle',0.87,prefix+'-x-tick-label');
  });
  yT.forEach((t,i) => {
    addLine(g,box.left-4,ys(t),box.left,ys(t),'#333',1.5,null,prefix+'-y-tick');
    addText(g,yL[i],box.left-10.5,ys(t)+7,19.5,'#4d4d4d','end',0.87,prefix+'-y-tick-label');
  });
}

/* Panel A */
(function(){
  const g = document.getElementById('panelA');
  const box = {left:66.8,right:646.6,top:40,bottom:1061.4};
  const xs = scale(0,0.5,356.9,621);
  const ys = scale(0,7.5,1015,241);
  const R = 5;
  addPoly(g,envelope(aGreyLevels,aGreyLeft,aGreyRight,xs,ys),'#BEBEBE','probes-not-significant-mass');
  addDots(g,aGreyPoints,xs,ys,R,'#BEBEBE','probe-not-significant');
  addPoly(g,envelope(aDownLevels,aDownLeft,aDownRight,xs,ys),'#1E90FF','probes-down-mass');
  addDots(g,aDownPoints,xs,ys,R,'#1E90FF','probe-down');
  addPoly(g,envelope(aLightLevels,aLightLeft,aLightRight,xs,ys),'#87CEFA','probes-weak-down-mass');
  addDots(g,aLightPoints,xs,ys,R,'#87CEFA','probe-weak-down');
  addPoly(g,envelope(aSalmonLevels,aSalmonLeft,aSalmonRight,xs,ys),'#FFA07A','probes-weak-up-mass');
  addDots(g,aSalmonPoints,xs,ys,R,'#FFA07A','probe-weak-up');
  addPoly(g,envelope(aUpLevels,aUpLeft,aUpRight,xs,ys),'#FF3333','probes-up-mass');
  addDots(g,aUpPoints,xs,ys,R,'#F73131','probe-up');
  volcanoFrame(g,box,xs,ys,aXTicks,aXTickLabels,aYTicks,aYTickLabels,aThresholds,aFdrThreshold,'#555',1085,'panel-a');
})();

/* Panel D */
(function(){
  const g = document.getElementById('panelD');
  const box = {left:65.5,right:652.6,top:1186.4,bottom:2137.3};
  const xs = scale(0,6,305.7,626.2);
  const ys = scale(0,7.5,2095,1373.6);
  const R = 4.6;
  const top = dGreyLevels.length-1;
  const greyShape = [];
  dGreyLevels.forEach((l,i) => greyShape.push([xs(dGreyLeft[i]),ys(l)]));
  greyShape.push([xs(-dNotchHalfWidth[1]),ys(dNotchLevels[1])]);
  greyShape.push([xs(-dNotchHalfWidth[0]),ys(dNotchLevels[0])]);
  greyShape.push([xs(dNotchHalfWidth[1]),ys(dNotchLevels[1])]);
  for(let i=top;i>=0;i--) greyShape.push([xs(dGreyRight[i]),ys(dGreyLevels[i])]);
  const greyEl = addPoly(g,greyShape,'#BEBEBE','genes-not-significant-mass');
  greyEl.setAttribute('stroke-width','1');
  addDots(g,dGreyPoints,xs,ys,R,'#BEBEBE','gene-not-significant');
  addPoly(g,band(dDownBandX,dDownBandTop,dBandBottom,xs,ys),'#3CB371','genes-down-mass');
  addDots(g,dDownPoints,xs,ys,R,'#3CB371','gene-down');
  addPoly(g,band(dUpBandX,dUpBandTop,dBandBottom,xs,ys),'#D2691E','genes-up-mass');
  addDots(g,dUpPoints,xs,ys,R,'#D2691E','gene-up');
  volcanoFrame(g,box,xs,ys,dXTicks,dXTickLabels,dYTicks,dYTickLabels,dThresholds,dFdrThreshold,'#333',2159,'panel-d');
})();

function colourFor(v,panelBins){
  for(let i=0;i<panelBins.length;i++){ if(v>=panelBins[i]) return binFloors[i]; }
  return binFloors[binFloors.length-1];
}

/* Bar panels */
function barPanel(id,prefix,cats,vals,ticks,tickLabels,grid,box,xs,first,last,labelX,tickBase,bins){
  const g = document.getElementById(id);
  const step = (last-first)/(cats.length-1);
  const rowY = i => first + i*step;
  grid.forEach(v => addLine(g,xs(v),box.top,xs(v),box.bottom,'#BDBDBD',2.7,null,prefix+'-gridline'));
  cats.forEach((c,i) => {
    const w = xs(vals[i])-xs(0);
    addRect(g,xs(0),rowY(i)-9.5,w,19,colourFor(vals[i],bins),'#6E6E6E',1.6,prefix+'-bar');
    addText(g,c,labelX,rowY(i)+7.3,19.6,'#111','start',0,prefix+'-category-label');
  });
  addRect(g,box.left,box.top,box.right-box.left,box.bottom-box.top,'none','#111',1.7,prefix+'-plot-border');
  ticks.forEach((t,i) => {
    addLine(g,xs(t),box.bottom,xs(t),box.bottom+4,'#111',1.5,null,prefix+'-x-tick');
    addText(g,tickLabels[i],xs(t),tickBase,18.5,'#1a1a1a','middle',0,prefix+'-x-tick-label');
  });
}
barPanel('panelB','panel-b',bCategories,bValues,bTicks,bTickLabels,bGrid,
  {left:713.75,right:1372,top:39.7,bottom:540.5},scale(0,17.5,713.75,1343),64,517,1378.5,570,[99,10.05,5.9,0,0,0]);
barPanel('panelC','panel-c',cCategories,cValues,cTicks,cTickLabels,cGrid,
  {left:720.4,right:1379,top:650.5,bottom:1151.6},scale(0,40,720.4,1280.4),674.6,1127.9,1385,1180.4,[20,10,5.9,4,3.2,0]);
barPanel('panelE','panel-e',eCategories,eValues,eTicks,eTickLabels,eGrid,
  {left:722.7,right:1380.6,top:1279.4,bottom:1780},scale(0,16,722.7,1333.4),1303,1756.7,1388,1809.7,[99,10,5,3.9,0,0]);
</script>
</body>
</html>
